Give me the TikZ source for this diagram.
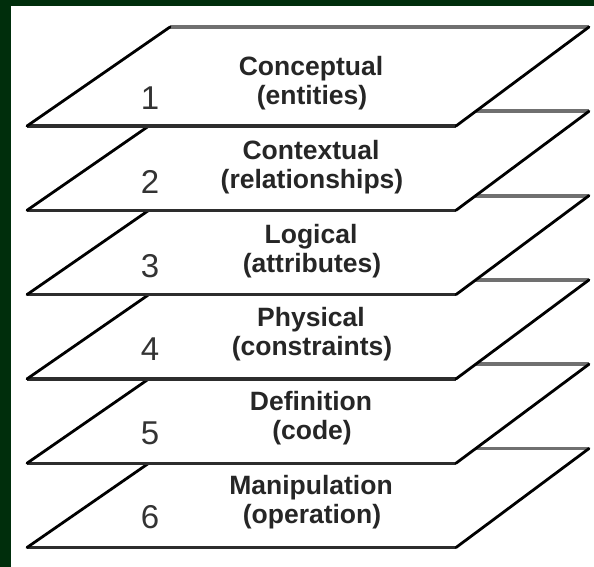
\documentclass[tikz,border=0pt]{standalone}
\usepackage{fontspec}
\setmainfont{Liberation Sans}
\definecolor{bordergreen}{RGB}{0,46,12}
\definecolor{edgegray}{RGB}{112,112,112}
\definecolor{edgedark}{RGB}{45,45,45}
\begin{document}
\begin{tikzpicture}[x=1pt,y=-1pt,
  layerfill/.style={fill=white,draw=none},
  slantedge/.style={draw=black,line width=2.8pt,line cap=round},
  topedge/.style={draw=edgegray,line width=3.8pt},
  botedge/.style={draw=edgedark,line width=3.4pt},
  titletext/.style={font=\fontsize{26.5}{29}\selectfont\bfseries,anchor=base,inner sep=0pt,text=black!85},
  numtext/.style={font=\fontsize{33}{33}\selectfont,anchor=base,inner sep=0pt,text=black!80}]
\useasboundingbox (0,0) rectangle (594,567);
\fill[bordergreen] (0,0) rectangle (594,567);
\fill[white] (11,6) rectangle (594,567);
\foreach \k/\title/\sub in {6/Manipulation/(operation),5/Definition/(code),4/Physical/(constraints),3/Logical/(attributes),2/Contextual/(relationships),1/Conceptual/(entities)} {
  \pgfmathsetmacro\d{84.3*(\k-1)}
  \pgfmathsetmacro\t{83.6*(\k-1)}
  \coordinate (tl\k) at (170,{27+\d});
  \coordinate (tr\k) at (589,{27+\d});
  \coordinate (br\k) at (456,{126+\d});
  \coordinate (bl\k) at (27,{126+\d});
  \fill[layerfill] (tl\k) -- (tr\k) -- (br\k) -- (bl\k) -- cycle;
  \draw[topedge] (tl\k) -- (tr\k);
  \draw[botedge] (bl\k) -- (br\k);
  \draw[slantedge] (tl\k) -- (bl\k);
  \draw[slantedge] (tr\k) -- (br\k);
  \node[numtext] (num\k) at (150,{110+\t}) {\k};
  \node[titletext] (title\k) at (311,{76+\t}) {\title};
  \node[titletext] (sub\k) at (312,{105+\t}) {\sub};
}
\end{tikzpicture}
\end{document}
